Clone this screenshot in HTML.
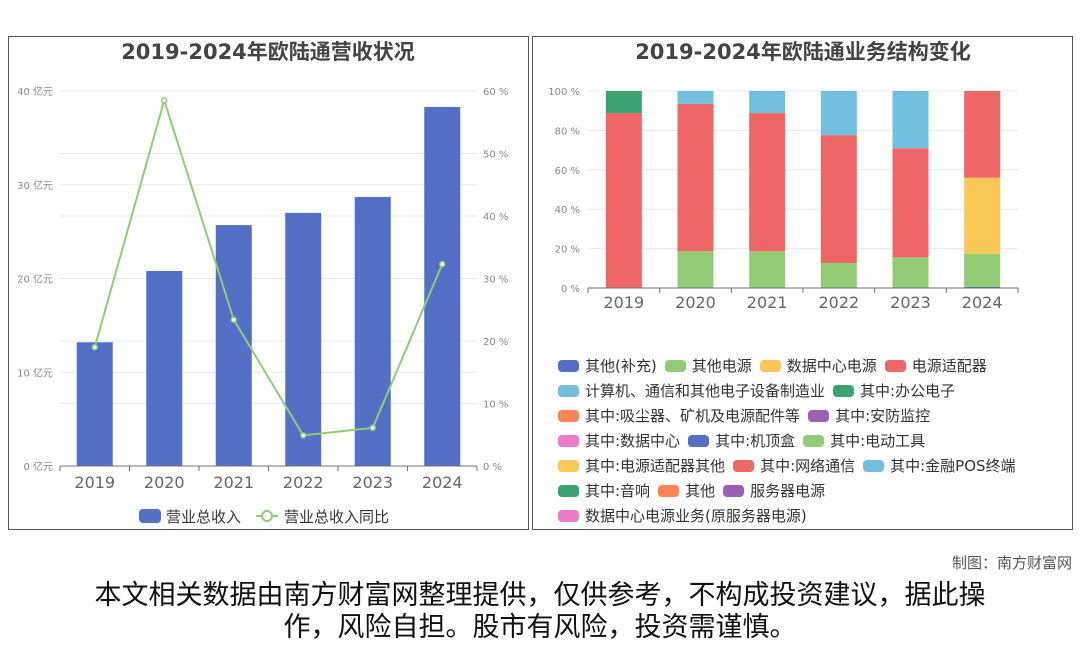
<!DOCTYPE html>
<html><head><meta charset="utf-8"><style>
body{margin:0;width:1080px;height:646px;background:#fff;overflow:hidden;font-family:"DejaVu Sans","Noto Sans CJK SC",sans-serif;}
.panel{position:absolute;top:36px;height:494px;border:1px solid #555;box-sizing:border-box;}
.lg{position:absolute;left:558px;font-size:15px;color:#333;white-space:nowrap;}
.lg span.i{display:inline-block;width:21px;height:12px;border-radius:4px;margin-right:6px;vertical-align:-1px;}
.lg span.t{margin-right:8px;}
</style></head><body>
<div class="panel" style="left:8px;width:521px;"></div>
<div class="panel" style="left:532px;width:541px;"></div>
<svg width="1080" height="646" style="position:absolute;left:0;top:0" id="svg">
<text x="268" y="59" text-anchor="middle" font-size="21" font-weight="bold" fill="#444">2019-2024年欧陆通营收状况</text>
<text x="803" y="59" text-anchor="middle" font-size="21" font-weight="bold" fill="#444">2019-2024年欧陆通业务结构变化</text>
<g id="left"></g><g id="right"></g>
<g>
<rect x="139" y="509" width="22" height="14" rx="4" fill="#5470c6"/>
<text x="166" y="522" font-size="15" fill="#333">营业总收入</text>
<line x1="256" y1="516" x2="278" y2="516" stroke="#91cc75" stroke-width="2"/>
<circle cx="267" cy="516" r="5" fill="#fff" stroke="#91cc75" stroke-width="2"/>
<text x="284" y="522" font-size="15" fill="#333">营业总收入同比</text>
</g>
</svg>
<div id="legend"></div>
<div style="position:absolute;right:8px;top:552px;font-size:15px;color:#555;">制图：南方财富网</div>
<div style="position:absolute;left:0;width:1080px;top:580px;text-align:center;font-size:27px;line-height:32px;color:#111;">本文相关数据由南方财富网整理提供，仅供参考，不构成投资建议，据此操<br>作，风险自担。股市有风险，投资需谨慎。</div>
<script>
const years=["2019","2020","2021","2022","2023","2024"];
const revenue=[13.2,20.8,25.7,27.0,28.7,38.3];
const yoy=[19.0,58.5,23.4,4.9,6.1,32.3];
const leftTicks=[0,10,20,30,40];
const rightTicks=[0,10,20,30,40,50,60];
// stacked shares (%) bottom to top
const sOther=[0,0,0,0,0,0.5];
const sOtherPower=[0,18.7,18.7,12.7,15.6,16.9];
const sDataCenter=[0,0,0,0,0,38.6];
const sAdapter=[88.8,74.8,70.1,64.9,55.3,44.0];
const sComputer=[0,6.5,11.2,22.4,29.1,0];
const sOffice=[11.2,0,0,0,0,0];
const pctTicks=[0,20,40,60,80,100];
const NS="http://www.w3.org/2000/svg";
function mk(p,t,a){const e=document.createElementNS(NS,t);for(const k in a)e.setAttribute(k,a[k]);p.appendChild(e);return e;}
// left chart
const L=document.getElementById('left');
const lx0=60,lx1=477,ly0=466,ly1=91,cw=(lx1-lx0)/years.length;
const yL=v=>ly0-(v/40)*(ly0-ly1), yR=v=>ly0-(v/60)*(ly0-ly1), xL=i=>lx0+cw*(i+0.5);
rightTicks.forEach(t=>{if(t>0){const g=mk(L,'line',{x1:lx0,x2:lx1,y1:yR(t),y2:yR(t),stroke:'#e6e8f2'});}
const tx=mk(L,'text',{x:lx1+6,y:yR(t)+4,'font-size':10,fill:'#888'});tx.textContent=t+' %';});
leftTicks.forEach(t=>{const g=mk(L,'line',{x1:lx0,x2:lx1,y1:yL(t),y2:yL(t),stroke:'#e6e8f2'});
const tx=mk(L,'text',{x:lx0-7,y:yL(t)+4,'font-size':10,fill:'#888','text-anchor':'end'});tx.textContent=t+' 亿元';});
revenue.forEach((v,i)=>{const r=mk(L,'rect',{x:xL(i)-18,y:yL(v),width:36,height:ly0-yL(v),fill:'#5470c6'});});
mk(L,'line',{x1:lx0,x2:lx1,y1:ly0,y2:ly0,stroke:'#6e7079'});
years.forEach((y,i)=>{mk(L,'line',{x1:lx0+cw*i,x2:lx0+cw*i,y1:ly0,y2:ly0+5,stroke:'#6e7079'});
const tx=mk(L,'text',{x:xL(i),y:ly0+22,'font-size':16,fill:'#666','text-anchor':'middle'});tx.textContent=y;});
mk(L,'line',{x1:lx1,x2:lx1,y1:ly0,y2:ly0+5,stroke:'#6e7079'});
const pl=mk(L,'polyline',{points:yoy.map((v,i)=>xL(i)+','+yR(v)).join(' '),fill:'none',stroke:'#91cc75','stroke-width':2});

yoy.forEach((v,i)=>{const c=mk(L,'circle',{cx:xL(i),cy:yR(v),r:2.5,fill:'#fff',stroke:'#91cc75','stroke-width':1.5});});
// right chart
const R=document.getElementById('right');
const rx0=588,rx1=1018,ry0=288,ry1=91,rcw=(rx1-rx0)/years.length;
const yP=v=>ry0-(v/100)*(ry0-ry1), xP=i=>rx0+rcw*(i+0.5);
pctTicks.forEach(t=>{const g=mk(R,'line',{x1:rx0,x2:rx1,y1:yP(t),y2:yP(t),stroke:'#e6e8f2'});
const tx=mk(R,'text',{x:rx0-8,y:yP(t)+4,'font-size':10,fill:'#888','text-anchor':'end'});tx.textContent=t+' %';});
const series=[[sOther,'#5470c6','other-supplement'],[sOtherPower,'#91cc75','other-power'],[sDataCenter,'#fac858','data-center-power'],[sAdapter,'#ee6666','power-adapter'],[sComputer,'#73c0de','computer-manufacturing'],[sOffice,'#3ba272','office-electronics']];
years.forEach((y,i)=>{let acc=0;series.forEach(s=>{const v=s[0][i];if(v>0){const r=mk(R,'rect',{x:xP(i)-18,y:yP(acc+v),width:36,height:yP(acc)-yP(acc+v),fill:s[1]});}acc+=v;});});
mk(R,'line',{x1:rx0,x2:rx1,y1:ry0,y2:ry0,stroke:'#6e7079'});
years.forEach((y,i)=>{mk(R,'line',{x1:rx0+rcw*i,x2:rx0+rcw*i,y1:ry0,y2:ry0+5,stroke:'#6e7079'});
const tx=mk(R,'text',{x:xP(i),y:ry0+20,'font-size':16,fill:'#666','text-anchor':'middle'});tx.textContent=y;});
mk(R,'line',{x1:rx1,x2:rx1,y1:ry0,y2:ry0+5,stroke:'#6e7079'});
// legend
const rows=[[['#5470c6','其他(补充)'],['#91cc75','其他电源'],['#fac858','数据中心电源'],['#ee6666','电源适配器']],
[['#73c0de','计算机、通信和其他电子设备制造业'],['#3ba272','其中:办公电子']],
[['#fc8452','其中:吸尘器、矿机及电源配件等'],['#9a60b4','其中:安防监控']],
[['#ea7ccc','其中:数据中心'],['#5470c6','其中:机顶盒'],['#91cc75','其中:电动工具']],
[['#fac858','其中:电源适配器其他'],['#ee6666','其中:网络通信'],['#73c0de','其中:金融POS终端']],
[['#3ba272','其中:音响'],['#fc8452','其他'],['#9a60b4','服务器电源']],
[['#ea7ccc','数据中心电源业务(原服务器电源)']]];
const lg=document.getElementById('legend');
rows.forEach((row,ri)=>{const d=document.createElement('div');d.className='lg';d.style.top=(355+ri*25)+'px';


row.forEach(it=>{const s=document.createElement('span');s.className='i';s.style.background=it[0];


const t=document.createElement('span');t.className='t';t.textContent=it[1];


d.appendChild(s);d.appendChild(t);});lg.appendChild(d);});
</script>
</body></html>
